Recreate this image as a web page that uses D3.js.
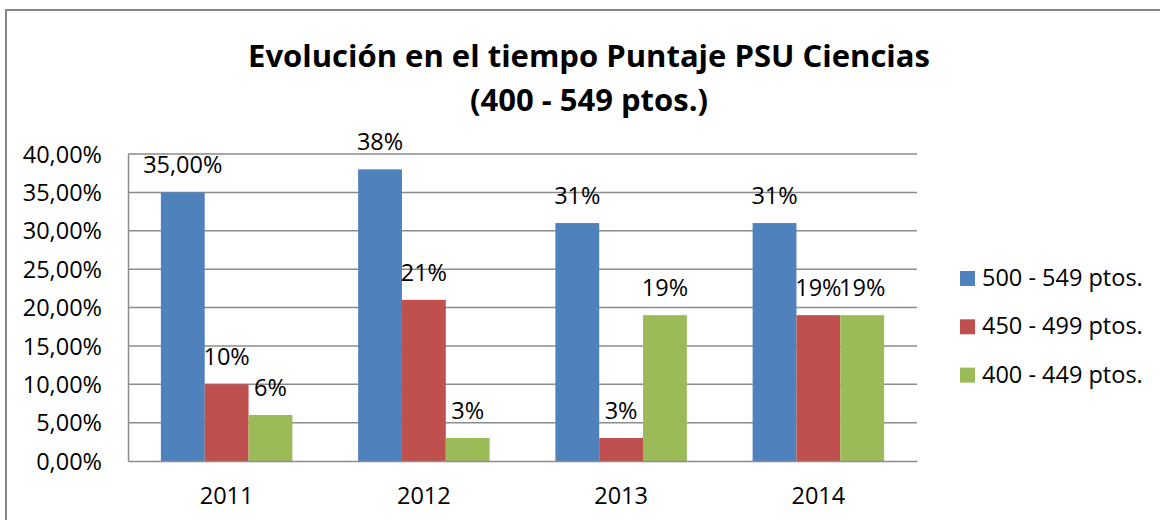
<!DOCTYPE html>
<html>
<head>
<meta charset="utf-8">
<script src="https://cdn.jsdelivr.net/npm/d3@7"></script>
<style>
  body { margin: 0; background: #fff; }
  svg text { font-family: "Open Sans", sans-serif; fill: #000; }
</style>
</head>
<body>
<svg id="chart"></svg>
<script>
const years = ["2011", "2012", "2013", "2014"];
const seriesNames = ["500 - 549 ptos.", "450 - 499 ptos.", "400 - 449 ptos."];
const s500 = [35, 38, 31, 31];
const s450 = [10, 21, 3, 19];
const s400 = [6, 3, 19, 19];
const labels500 = ["35,00%", "38%", "31%", "31%"];
const labels450 = ["10%", "21%", "3%", "19%"];
const labels400 = ["6%", "3%", "19%", "19%"];
const yTicks = [0, 5, 10, 15, 20, 25, 30, 35, 40];
const colors = ["#4F81BD", "#C0504D", "#9BBB59"];

const W = 1160, H = 520;
const margin = {left: 128, right: 243, top: 154, bottom: 59};
const innerW = W - margin.left - margin.right;
const innerH = H - margin.top - margin.bottom;
const fontFamily = "'Open Sans', sans-serif";
const fs = 23.5;

const series = [
  {name: seriesNames[0], values: s500, labels: labels500},
  {name: seriesNames[1], values: s450, labels: labels450},
  {name: seriesNames[2], values: s400, labels: labels400}
];

const svg = d3.select("#chart").attr("width", W).attr("height", H);

// outer frame
svg.append("rect")
  .attr("x", 6).attr("y", 10)
  .attr("width", W + 20).attr("height", H + 20)
  .attr("fill", "none").attr("stroke", "#868686").attr("stroke-width", 2);

svg.append("text")
  .attr("x", 589).attr("y", 67)
  .attr("text-anchor", "middle")
  .attr("font-size", 31).attr("font-weight", "bold")
  .text("Evolución en el tiempo Puntaje PSU Ciencias");
svg.append("text")
  .attr("x", 589).attr("y", 111)
  .attr("text-anchor", "middle")
  .attr("font-size", 31).attr("font-weight", "bold")
  .text("(400 - 549 ptos.)");

const chart = svg.append("g")
  .attr("transform", `translate(${margin.left},${margin.top})`);

const x = d3.scaleBand().domain(years).range([0, innerW]);
const xInner = d3.scaleBand().domain(d3.range(series.length))
  .range([x.bandwidth() / 6, x.bandwidth() * 5 / 6]);
const y = d3.scaleLinear().domain([0, 40]).range([innerH, 0]);

// gridlines
chart.append("g")
  .selectAll("line")
  .data(yTicks.filter(d => d > 0))
  .join("line")
  .attr("x1", 0).attr("x2", innerW)
  .attr("y1", d => y(d)).attr("y2", d => y(d))
  .attr("stroke", "#8c8c8c").attr("stroke-width", 1.5);

// y axis
const yAxis = d3.axisLeft(y).tickValues(yTicks).tickSize(0).tickPadding(26)
  .tickFormat(d => d3.format(".2f")(d).replace(".", ",") + "%");
const yg = chart.append("g").call(yAxis);
yg.select(".domain").attr("stroke", "#8c8c8c").attr("stroke-width", 1.5);
yg.selectAll("text").attr("font-size", fs).attr("dy", "0.35em")
  .style("font-family", fontFamily);

// bars
series.forEach((s, i) => {
  const g = chart.append("g");
  g.selectAll("rect")
    .data(s.values)
    .join("rect")
    .attr("x", (d, j) => x(years[j]) + xInner(i))
    .attr("y", d => y(d))
    .attr("width", xInner.bandwidth())
    .attr("height", d => innerH - y(d))
    .attr("fill", colors[i]);
  g.selectAll("text")
    .data(s.values)
    .join("text")
    .attr("x", (d, j) => x(years[j]) + xInner(i) + xInner.bandwidth() / 2)
    .attr("y", d => y(d) - 19)
    .attr("text-anchor", "middle")
    .attr("font-size", fs)
    .text((d, j) => s.labels[j]);
});

// x axis
const xAxis = d3.axisBottom(x).tickSize(0).tickPadding(26);
const xg = chart.append("g").attr("transform", `translate(0,${innerH})`).call(xAxis);
xg.select(".domain").attr("stroke", "#8c8c8c").attr("stroke-width", 1.5);
xg.selectAll("text").attr("font-size", fs)
  .style("font-family", fontFamily);

// legend
const legend = svg.append("g").attr("transform", "translate(960,271)");
const items = legend.selectAll("g")
  .data(series)
  .join("g")
  .attr("transform", (d, i) => `translate(0,${i * 48.3})`);
items.append("rect")
  .attr("width", 15).attr("height", 15)
  .attr("fill", (d, i) => colors[i]);
items.append("text")
  .attr("x", 22).attr("y", 15)
  .attr("font-size", fs)
  .text(d => d.name);
</script>
</body>
</html>
